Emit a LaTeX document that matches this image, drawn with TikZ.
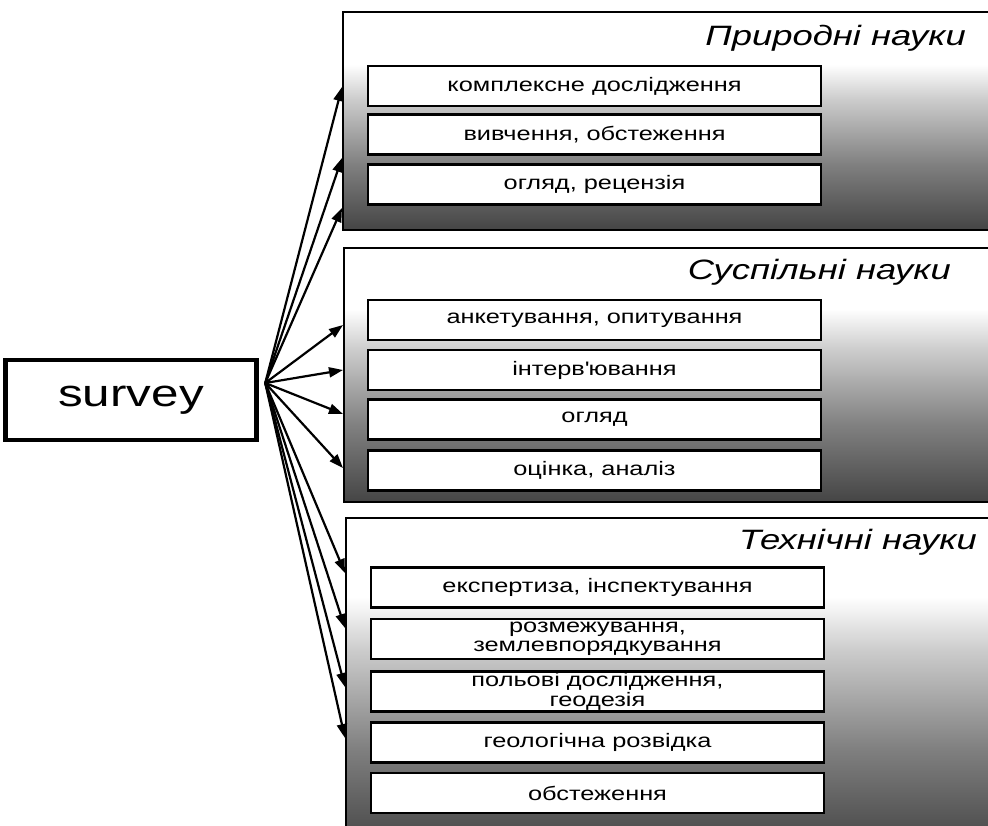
\documentclass[tikz,border=0pt]{standalone}
\usepackage{fontspec}
\setmainfont{Liberation Sans}[FakeStretch=1.3]
\usetikzlibrary{arrows.meta,calc}
\definecolor{gd}{gray}{0.27}
\definecolor{gm}{gray}{0.5}
\definecolor{gl}{gray}{0.8}
\pgfdeclareverticalshading{grpshade}{100bp}{color(0bp)=(gd); color(25bp)=(gd); color(40bp)=(gm); color(55bp)=(gl); color(63bp)=(white); color(100bp)=(white)}
\begin{document}
\begin{tikzpicture}[x=1pt,y=-1pt,
  grp/.style={draw=black, line width=2pt, shade, shading=grpshade, inner sep=0pt, anchor=north west},
  item/.style={draw=black, line width=2.2pt, fill=white, minimum width=453pt, minimum height=40pt, inner sep=0pt, align=center, font=\fontsize{19.5pt}{19.5pt}\selectfont},
  ttl/.style={font=\fontsize{28pt}{30pt}\selectfont\itshape, anchor=base east, inner sep=0pt},
  link/.style={line width=2.2pt, -{Triangle[length=14pt,width=10pt]}}]
\useasboundingbox (0,0) rectangle (988,825);
\clip (0,0) rectangle (988,825);
% groups
\node[grp, minimum width=670pt, minimum height=218pt] (g1) at (342,11) {};
\node[grp, minimum width=670pt, minimum height=254pt] (g2) at (343,247) {};
\node[grp, minimum width=670pt, minimum height=330pt] (g3) at (345,517) {};
% titles
\node[ttl] (t1) at (966,45) {Природні науки};
\node[ttl] (t2) at (951,279) {Суспільні науки};
\node[ttl] (t3) at (977,549) {Технічні науки};
% items group 1
\node[item] (a1) at (594.5,86) {комплексне дослідження};
\node[item] (a2) at (594.5,134.5) {вивчення, обстеження};
\node[item] (a3) at (594.5,184.5) {огляд, рецензія};
% items group 2
\node[item] (b1) at (594.5,320) {анкетування, опитування};
\node[item] (b2) at (594.5,370) {інтерв\textquotesingle ювання};
\node[item] (b3) at (594.5,419.5) {огляд};
\node[item] (b4) at (594.5,470.5) {оцінка, аналіз};
% items group 3
\node[item] (c1) at (597.5,587.5) {експертиза, інспектування};
\node[item] (c2) at (597.5,639) {розмежування,\\землевпорядкування};
\node[item] (c3) at (597.5,691.5) {польові дослідження,\\геодезія};
\node[item] (c4) at (597.5,742.5) {геологічна розвідка};
\node[item] (c5) at (597.5,793) {обстеження};
% survey
\node[draw=black, line width=4.5pt, minimum width=251pt, minimum height=80pt, inner sep=0pt,
      font=\fontsize{38pt}{40pt}\selectfont] (s) at (131,400) {survey};
\coordinate (o) at ($(s.east)+(6.5pt,17pt)$);
% arrows
\foreach \g/\yy in {g1/87, g1/158, g1/208, g2/325, g2/370, g2/414, g2/468, g3/573, g3/628, g3/687, g3/738}
  \draw[link] (o) -- (\g.west |- 0,\yy);
\end{tikzpicture}
\end{document}
